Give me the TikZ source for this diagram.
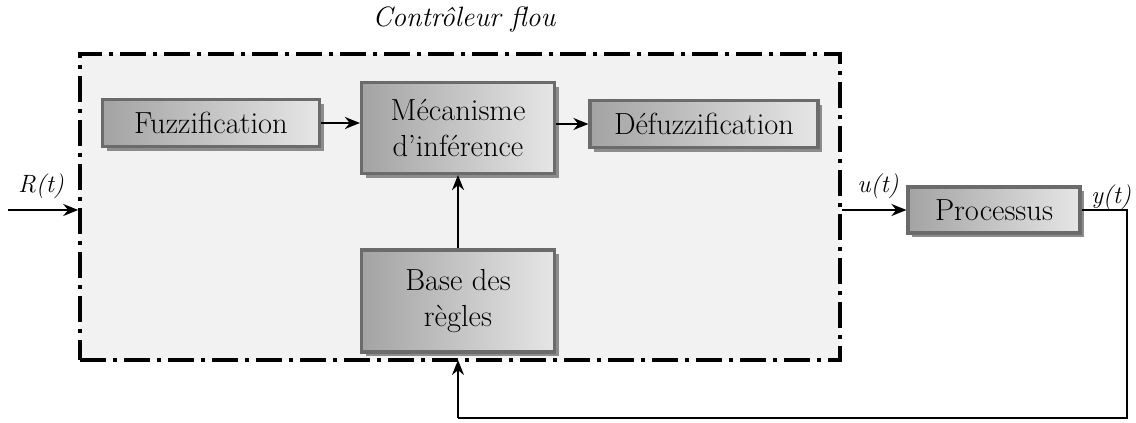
\documentclass[tikz,border=0pt]{standalone}
\usepackage{fontspec}
\setmainfont{Latin Modern Roman}
\usetikzlibrary{arrows.meta,shadows,positioning}
\begin{document}
\begin{tikzpicture}[x=1pt,y=-1pt,
  blk/.style={draw=black!58, line width=3.2pt, left color=black!36, right color=black!10,
    inner sep=0pt, align=center, font=\fontsize{30.5}{36}\selectfont,
    drop shadow={shadow xshift=4pt, shadow yshift=-4pt, fill=black!45, opacity=1}},
  frm/.style={draw=black, line width=3.6pt, fill=black!5, inner sep=0pt,
    dash pattern=on 26pt off 7pt on 4pt off 7pt},
  arr/.style={-{Stealth[length=15pt,width=12pt]}, line width=2pt},
  ln/.style={line width=2pt},
  lbl/.style={font=\fontsize{25}{28}\selectfont\itshape, inner sep=0pt}
]
\useasboundingbox (0,0) rectangle (1136,423);
\node[frm, minimum width=760pt, minimum height=306pt] (frame) at (460,207) {};
\node[font=\fontsize{28}{30}\selectfont\itshape] (title) at (464,20) {Contrôleur flou};
\node[blk, minimum width=217pt, minimum height=47pt] (fuz) at (211,123) {Fuzzification};
\node[blk, minimum width=193pt, minimum height=91pt] (mec) at (458,128) {Mécanisme\\d'inférence};
\node[blk, minimum width=228pt, minimum height=47pt] (def) at (704,124) {Défuzzification};
\node[blk, minimum width=193pt, minimum height=102pt] (base) at (458,301) {Base des\\règles};
\node[blk, minimum width=172pt, minimum height=46pt] (proc) at (994,210) {Processus};
\coordinate (rin) at (8,210);
\coordinate (fin) at (frame.west |- rin);
\coordinate (fout) at (frame.east |- proc.west);
\coordinate (c1) at (1127,210);
\coordinate (c2) at (1127,418);
\coordinate (c3) at (458,418);
\coordinate (fb) at (458,360);
\draw[arr] (fuz.east) -- (fuz.east -| mec.west);
\draw[arr] (mec.east |- def.west) -- (def.west);
\draw[arr] (base.north) -- (mec.south);
\draw[arr] (rin) -- (fin);
\draw[arr] (fout) -- (proc.west);
\draw[ln] (proc.east) -- (c1) -- (c2) -- (c3);
\draw[arr] (c3) -- (fb);
\node[lbl] (rt) at (41,186) {R(t)};
\node[lbl] (ut) at (878,186) {u(t)};
\node[lbl] (yt) at (1111,197) {y(t)};
\end{tikzpicture}
\end{document}
